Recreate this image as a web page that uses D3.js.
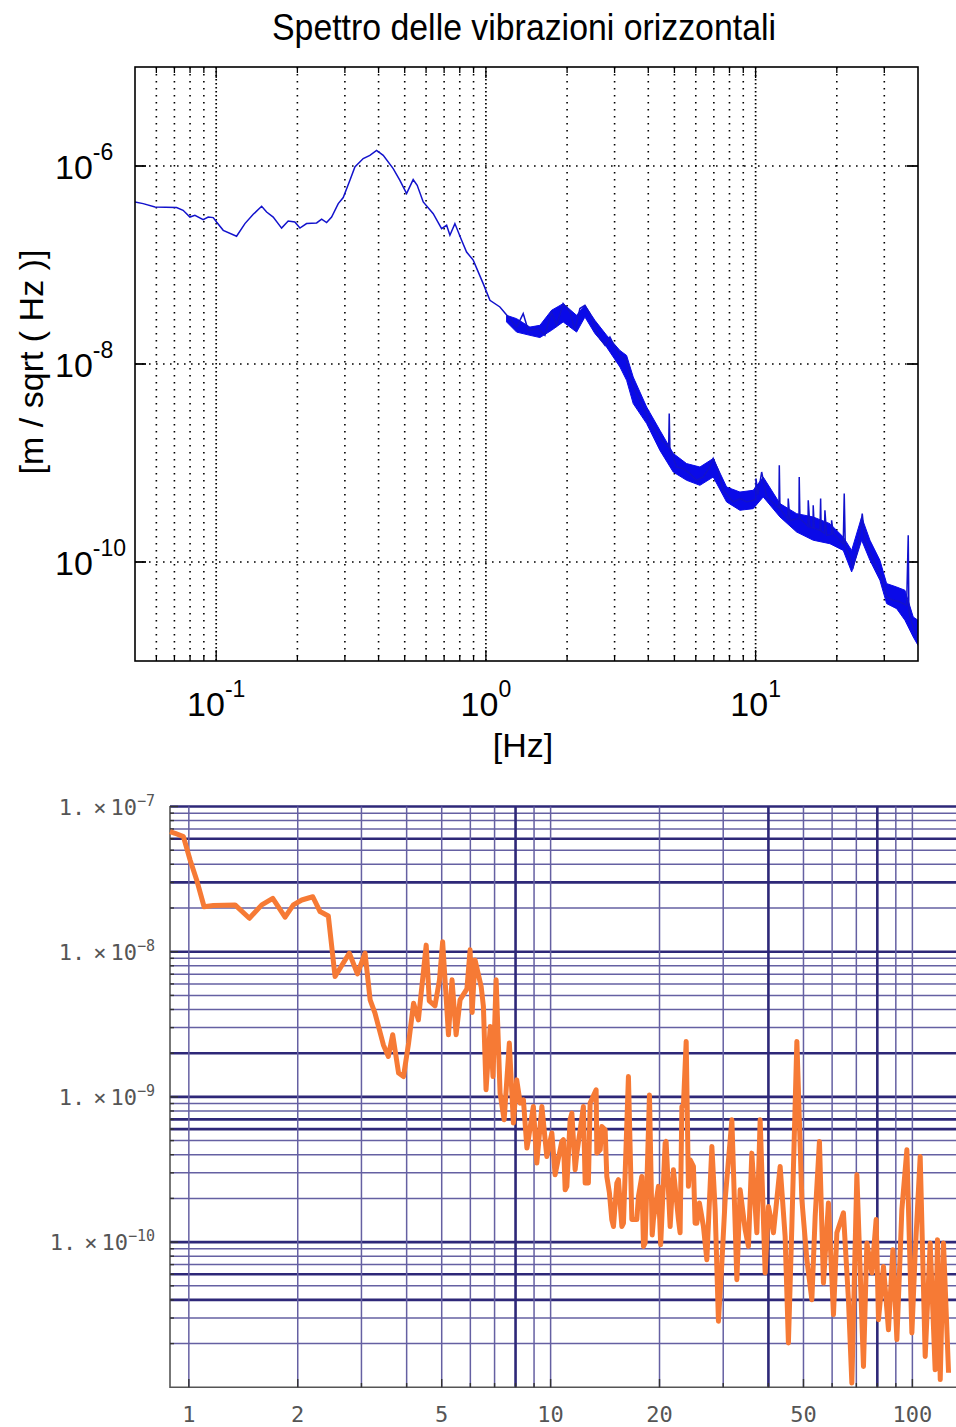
<!DOCTYPE html>
<html>
<head>
<meta charset="utf-8">
<style>
body { margin: 0; background: #fff; }
svg { display: block; }
.mat text { font-family: "Liberation Sans", Arial, Helvetica, sans-serif; fill: #000; }
.mma text { font-family: "DejaVu Sans Mono", monospace; fill: #555; }
</style>
<title>spettro</title>
<script src="https://cdn.jsdelivr.net/npm/d3@7/dist/d3.min.js"></script>
</head>
<body>
<script type="text/javascript">

/* ------- TOP PLOT DATA (matlab style) ------- */
var topFreq = [0.050, 0.0536, 0.0593, 0.0713, 0.0754, 0.0799, 0.0834, 0.0895, 0.0934, 0.0975,
	0.1003, 0.1062, 0.119, 0.1278, 0.1372, 0.1474, 0.1538, 0.1627, 0.1748, 0.1849,
	0.1957, 0.2044, 0.2163, 0.2357, 0.246, 0.2567, 0.2679, 0.2835, 0.2958, 0.3132,
	0.3268, 0.3508, 0.3714, 0.3933, 0.4162, 0.4532, 0.4799, 0.5081, 0.5374, 0.5562,
	0.5856, 0.6378, 0.685, 0.7151, 0.7355, 0.7674, 0.8126, 0.8479, 0.8974, 0.9772,
	1.035, 1.127, 1.227, 1.30, 1.375, 1.435, 1.563, 1.655, 1.752, 1.829,
	1.934, 2.049, 2.138, 2.231, 2.329, 2.43, 2.536, 2.647, 2.762, 2.883,
	3.008, 3.14, 3.324, 3.42, 3.568, 3.724, 3.886, 4.057, 4.295, 4.482,
	4.76, 4.783, 4.81, 4.881, 5.095, 5.389, 5.706, 6.043, 6.393, 6.77,
	6.963, 7.265, 7.584, 8.26, 8.746, 9.262, 9.797, 10.01, 10.03, 10.2,
	10.53, 10.98, 12.2, 12.24, 12.31, 13.18, 13.21, 13.41, 14.48, 14.51,
	14.6, 15.64, 15.67, 15.9, 16.33, 16.35, 16.5, 17.32, 17.42, 17.5,
	18.0, 18.07, 18.34, 19.1, 19.13, 19.4, 21.13, 21.31, 21.5, 22.37,
	23.0, 24.01, 24.85, 25.43, 27.3, 29.33, 30.6, 32.37, 34.28, 36.3,
	36.8, 37.0, 37.34, 39.54, 40];
var topAmp = [4.33e-7, 4.17e-7, 3.85e-7, 3.80e-7, 3.57e-7, 3.05e-7, 3.18e-7, 2.87e-7, 3.05e-7, 3.01e-7,
	2.72e-7, 2.24e-7, 1.95e-7, 2.62e-7, 3.25e-7, 3.92e-7, 3.43e-7, 3.05e-7, 2.36e-7, 2.78e-7,
	2.72e-7, 2.36e-7, 2.62e-7, 2.66e-7, 2.91e-7, 2.68e-7, 3.05e-7, 4.17e-7, 4.80e-7, 7.17e-7,
	9.77e-7, 1.19e-6, 1.28e-6, 1.44e-6, 1.28e-6, 9.41e-7, 7.17e-7, 5.26e-7, 7.29e-7, 6.38e-7,
	4.33e-7, 3.30e-7, 2.33e-7, 2.52e-7, 2.00e-7, 2.62e-7, 1.78e-7, 1.35e-7, 1.12e-7, 6.49e-8,
	4.40e-8, 3.77e-8, 2.87e-8, 2.36e-8, 3.23e-8, 2.19e-8, 2.28e-8, 1.95e-8, 3.35e-8, 2.46e-8,
	4.07e-8, 3.35e-8, 2.19e-8, 3.63e-8, 3.92e-8, 3.23e-8, 2.36e-8, 1.80e-8, 1.55e-8, 1.87e-8,
	1.48e-8, 1.22e-8, 1.09e-8, 7.39e-9, 5.43e-9, 4.30e-9, 3.41e-9, 2.50e-9, 2.06e-9, 1.70e-9,
	1.45e-9, 3.16e-9, 1.40e-9, 1.25e-9, 9.11e-10, 8.78e-10, 7.81e-10, 6.69e-10, 7.22e-10, 9.11e-10,
	1.11e-9, 8.44e-10, 5.30e-10, 4.04e-10, 4.37e-10, 4.04e-10, 4.20e-10, 4.3e-10, 6.96e-10, 4.8e-10,
	8.11e-10, 4.54e-10, 3.5e-10, 9.48e-10, 3.46e-10, 2.7e-10, 4.37e-10, 2.64e-10, 2.75e-10, 7.22e-10,
	2.74e-10, 2.3e-10, 4.20e-10, 2.26e-10, 2.2e-10, 3.74e-10, 2.2e-10, 2.09e-10, 4.37e-10, 2.05e-10,
	1.95e-10, 3.33e-10, 1.86e-10, 1.9e-10, 2.64e-10, 1.94e-10, 1.53e-10, 4.91e-10, 1.45e-10, 1.12e-10,
	8.9e-11, 1.42e-10, 3.08e-10, 1.66e-10, 1.04e-10, 7.06e-11, 4.43e-11, 4.10e-11, 3.94e-11, 3.66e-11,
	1.86e-10, 3.3e-11, 2.78e-11, 1.75e-11, 1.56e-11];

// noisy band (upper / lower envelope) above 1 Hz
var bandFreq = [1.193, 1.30, 1.456, 1.586, 1.752, 1.934, 2.169, 2.329, 2.536, 2.803,
	3.14, 3.324, 3.517, 3.944, 4.418, 4.949, 5.548, 6.216, 6.963, 7.806,
	8.746, 9.797, 10.67, 12.31, 14.19, 16.35, 18.86, 21.13, 22.70, 24.72,
	26.54, 28.90, 30.60, 33.33, 35.78, 38.41, 40];
var bandHi = [3.10e-8, 2.87e-8, 2.36e-8, 2.46e-8, 3.49e-8, 4.07e-8, 3.10e-8, 3.92e-8, 2.76e-8, 1.95e-8,
	1.37e-8, 1.22e-8, 7.39e-9, 3.68e-9, 2.14e-9, 1.25e-9, 9.86e-10, 9.11e-10, 1.11e-9, 5.72e-10,
	5.09e-10, 5.30e-10, 7.22e-10, 3.89e-10, 3.08e-10, 2.85e-10, 2.44e-10, 1.79e-10, 1.31e-10, 2.85e-10,
	1.66e-10, 1.04e-10, 6.05e-11, 5.59e-11, 5.18e-11, 2.78e-11, 2.58e-11];
var bandLo = [2.66e-8, 2.10e-8, 1.95e-8, 1.85e-8, 2.19e-8, 2.66e-8, 2.10e-8, 2.98e-8, 2.03e-8, 1.48e-8,
	9.33e-9, 6.84e-9, 3.98e-9, 2.50e-9, 1.34e-9, 8.11e-10, 6.69e-10, 5.95e-10, 7.22e-10, 4.04e-10,
	3.33e-10, 3.46e-10, 4.54e-10, 2.85e-10, 2.01e-10, 1.66e-10, 1.53e-10, 1.31e-10, 7.93e-11, 1.66e-10,
	1.04e-10, 6.53e-11, 3.80e-11, 3.38e-11, 2.58e-11, 1.75e-11, 1.44e-11];

var topXMinor = [0.06, 0.07, 0.08, 0.09, 0.2, 0.3, 0.4, 0.5, 0.6, 0.7, 0.8, 0.9,
	2, 3, 4, 5, 6, 7, 8, 9, 20, 30];
var topXMajor = [0.1, 1, 10];
var topXExp = ["-1", "0", "1"];
var topYMajor = [1e-10, 1e-8, 1e-6];
var topYExp = ["-10", "-8", "-6"];

/* ------- BOTTOM PLOT DATA (mathematica style) ------- */
var botFreq = [0.887, 0.916, 0.966, 1.008, 1.051, 1.102, 1.169, 1.342, 1.47, 1.591,
	1.706, 1.845, 1.945, 2.052, 2.201, 2.305, 2.43, 2.536, 2.618, 2.778,
	2.924, 3.07, 3.17, 3.27, 3.45, 3.56, 3.66, 3.80, 3.92, 4.05,
	4.18, 4.31, 4.53, 4.62, 4.79, 4.93, 5.03, 5.22, 5.34, 5.48,
	5.62, 5.87, 5.99, 6.07, 6.18, 6.43, 6.52, 6.63, 6.81, 6.93,
	7.07, 7.25, 7.44, 7.69, 7.89, 8.06, 8.24, 8.41, 8.60, 8.68,
	8.87, 8.96, 9.16, 9.46, 9.76, 10.08, 10.29, 10.74, 10.85, 10.97,
	11.09, 11.32, 11.45, 11.69, 11.82, 12.07, 12.32, 12.46, 12.72, 12.86,
	13.36, 13.42, 13.71, 13.85, 14.15, 14.30, 14.54, 14.76, 14.92, 15.24,
	15.40, 15.74, 15.90, 16.41, 16.77, 17.31, 17.49, 17.87, 18.06, 18.25,
	18.76, 19.09, 19.24, 19.86, 20.15, 20.73, 20.86, 21.40, 21.85, 22.56,
	22.80, 23.06, 23.28, 23.70, 24.04, 24.31, 24.82, 25.08, 25.36, 25.78,
	26.45, 27.03, 27.91, 28.50, 29.10, 29.74,
	30.37, 31.70, 32.72, 33.41, 34.49, 35.23, 35.99, 37.16, 37.95, 39.18,
	40.01, 41.30, 43.10, 44.49, 45.43, 46.43, 47.94, 49.49, 51.09, 52.74,
	53.86, 55.35, 56.78, 58.61, 60.52, 61.84, 64.48, 66.57, 68.03, 70.23,
	73.25, 74.85, 77.27, 79.41, 80.59, 83.19, 85.88, 88.33, 90.60, 93.52,
	96.56, 99.68, 101.8, 105.1, 108.5, 112.0, 115.6, 117.3, 119.4, 121.9,
	125.9];
var botAmp = [6.71e-8, 6.54e-8, 6.20e-8, 4.28e-8, 3.12e-8, 2.04e-8, 2.08e-8, 2.10e-8, 1.70e-8, 2.10e-8,
	2.33e-8, 1.73e-8, 2.10e-8, 2.27e-8, 2.39e-8, 1.89e-8, 1.76e-8, 6.74e-9, 7.70e-9, 9.77e-9,
	7.03e-9, 9.77e-9, 4.66e-9, 3.77e-9, 2.28e-9, 1.90e-9, 2.68e-9, 1.46e-9, 1.38e-9, 2.35e-9,
	4.42e-9, 3.39e-9, 1.11e-8, 4.59e-9, 4.24e-9, 6.40e-9, 1.17e-8, 2.68e-9, 6.40e-9, 2.68e-9,
	4.66e-9, 5.55e-9, 1.03e-8, 3.82e-9, 8.78e-9, 5.72e-9, 4.19e-9, 1.12e-9, 3.05e-9, 1.38e-9,
	6.40e-9, 1.06e-9, 6.96e-10, 2.35e-9, 6.60e-10, 1.31e-9, 9.06e-10, 9.55e-10, 4.44e-10, 5.07e-10,
	7.33e-10, 8.59e-10, 3.50e-10, 8.59e-10, 3.89e-10, 5.64e-10, 2.91e-10, 4.93e-10, 5.07e-10, 2.29e-10,
	2.42e-10, 6.96e-10, 7.74e-10, 3.15e-10, 4.10e-10, 5.94e-10, 8.59e-10, 2.55e-10, 2.55e-10, 9.06e-10,
	1.12e-9, 4.10e-10, 4.32e-10, 6.26e-10, 5.94e-10, 2.83e-10, 2.18e-10, 1.43e-10, 1.28e-10, 2.55e-10,
	2.69e-10, 1.28e-10, 1.35e-10, 1.38e-9, 1.43e-10, 1.43e-10, 2.06e-10, 2.83e-10, 9.34e-11, 9.86e-11,
	1.03e-9, 1.12e-10, 1.43e-10, 2.42e-10, 9.60e-11, 4.81e-10, 4.93e-10, 1.28e-10, 3.15e-10, 1.43e-10,
	1.16e-10, 8.59e-10, 8.59e-10, 2.41e-9, 2.42e-10, 3.69e-10, 3.32e-10, 1.35e-10, 1.35e-10, 1.86e-10,
	1.28e-10, 7.57e-11, 4.56e-10, 1.67e-10, 2.85e-11, 7.18e-11,
	1.96e-10, 6.96e-10, 5.51e-11, 2.29e-10, 1.22e-10, 9.34e-11, 4.10e-10, 1.16e-10, 6.96e-10, 6.13e-11,
	1.76e-10, 1.16e-10, 3.32e-10, 1.09e-10, 2.02e-11, 1.28e-10, 2.41e-9, 1.96e-10, 7.57e-11, 4.01e-11,
	1.50e-10, 4.93e-10, 5.23e-11, 1.86e-10, 3.16e-11, 1.16e-10, 1.59e-10, 4.01e-11, 1.07e-11, 2.91e-10,
	1.39e-11, 9.86e-11, 6.13e-11, 1.43e-10, 2.92e-11, 6.80e-11, 2.49e-11, 8.86e-11, 2.13e-11, 1.67e-10,
	4.32e-10, 2.37e-11, 8.41e-11, 3.89e-10, 1.63e-11, 9.86e-11, 1.32e-11, 1.04e-10, 1.13e-11, 9.86e-11,
	1.26e-11];

var botXGrid = [1, 2, 3, 4, 5, 6, 7, 8, 9, 10, 20, 30, 40, 50, 60, 70, 80, 90, 100];
var botXHeavy = [8, 40, 80];
var botYGrid = [2e-11, 3e-11, 4e-11, 5e-11, 6e-11, 7e-11, 8e-11, 9e-11,
	1e-10, 2e-10, 3e-10, 4e-10, 5e-10, 6e-10, 7e-10, 8e-10, 9e-10,
	1e-9, 2e-9, 3e-9, 4e-9, 5e-9, 6e-9, 7e-9, 8e-9, 9e-9,
	1e-8, 2e-8, 3e-8, 4e-8, 5e-8, 6e-8, 7e-8, 8e-8, 9e-8, 1e-7];
var botYHeavy = [4e-11, 6e-11, 1e-10, 6e-10, 7e-10, 1e-9, 2e-9, 1e-8, 3e-8, 6e-8, 1e-7];
var botXLabels = [1, 2, 5, 10, 20, 50, 100];
var botYLabels = [1e-7, 1e-8, 1e-9, 1e-10];
var botYExp = ["\u22127", "\u22128", "\u22129", "\u221210"];


var svg = d3.select("body")
	.append("svg")
	.attr("width", 956)
	.attr("height", 1427);

/* ------- TOP PLOT ------- */
var gTop = svg.append("g").attr("class", "mat");

var tx = d3.scaleLog().domain([0.05, 40]).range([135, 918]);
var ty = d3.scaleLog().domain([1e-11, 1e-5]).range([661, 67]);

gTop.append("defs").append("clipPath").attr("id", "clipTop")
	.append("rect").attr("x", 135).attr("y", 67).attr("width", 783).attr("height", 594);

// dotted grid
gTop.selectAll("line.vminor").data(topXMinor).enter().append("line")
	.attr("x1", function(d) { return tx(d); }).attr("x2", function(d) { return tx(d); })
	.attr("y1", 67).attr("y2", 661)
	.style("stroke", "#000").style("stroke-width", 1.6)
	.style("stroke-dasharray", "1.6 5.4");
gTop.selectAll("line.vmajor").data(topXMajor).enter().append("line")
	.attr("x1", function(d) { return tx(d); }).attr("x2", function(d) { return tx(d); })
	.attr("y1", 67).attr("y2", 661)
	.style("stroke", "#000").style("stroke-width", 1.7)
	.style("stroke-dasharray", "1.6 2.4");
gTop.selectAll("line.hgrid").data(topYMajor).enter().append("line")
	.attr("x1", 135).attr("x2", 918)
	.attr("y1", function(d) { return ty(d); }).attr("y2", function(d) { return ty(d); })
	.style("stroke", "#000").style("stroke-width", 1.6)
	.style("stroke-dasharray", "1.6 5.4");

// ticks
function tickV(data, len, y0, dir) {
	gTop.selectAll(null).data(data).enter().append("line")
		.attr("x1", function(d) { return tx(d); }).attr("x2", function(d) { return tx(d); })
		.attr("y1", y0).attr("y2", y0 + dir * len)
		.style("stroke", "#000").style("stroke-width", 1.3);
}
tickV(topXMinor, 6, 661, -1);
tickV(topXMinor, 6, 67, 1);
tickV(topXMajor, 11, 661, -1);
tickV(topXMajor, 11, 67, 1);
gTop.selectAll(null).data(topYMajor).enter().append("line")
	.attr("x1", 135).attr("x2", 146)
	.attr("y1", function(d) { return ty(d); }).attr("y2", function(d) { return ty(d); })
	.style("stroke", "#000").style("stroke-width", 1.8);
gTop.selectAll(null).data(topYMajor).enter().append("line")
	.attr("x1", 918).attr("x2", 907)
	.attr("y1", function(d) { return ty(d); }).attr("y2", function(d) { return ty(d); })
	.style("stroke", "#000").style("stroke-width", 1.8);

// trace
var plotTop = gTop.append("g").attr("clip-path", "url(#clipTop)");
var band = d3.area()
	.x(function(d, i) { return tx(bandFreq[i]); })
	.y0(function(d, i) { return ty(bandLo[i]); })
	.y1(function(d, i) { return ty(bandHi[i]); });
plotTop.append("path")
	.attr("d", band(bandFreq))
	.style("fill", "#0a0ae8").style("stroke", "#0a0ae8").style("stroke-width", 1);
var topLine = d3.line()
	.x(function(d, i) { return tx(topFreq[i]); })
	.y(function(d, i) { return ty(topAmp[i]); });
plotTop.append("path")
	.attr("d", topLine(topFreq))
	.style("fill", "none").style("stroke", "#1212cc").style("stroke-width", 1.5);

// frame
gTop.append("rect").attr("x", 135).attr("y", 67).attr("width", 783).attr("height", 594)
	.style("fill", "none").style("stroke", "#000").style("stroke-width", 1.6);

// labels
var xl = gTop.selectAll("text.xl").data(topXMajor).enter().append("text")
	.attr("x", function(d) { return tx(d); }).attr("y", 716)
	.attr("text-anchor", "middle").style("font-size", "34px");
xl.append("tspan").text("10");
xl.append("tspan").attr("dy", -19).style("font-size", "23px")
	.text(function(d, i) { return topXExp[i]; });

var yl = gTop.selectAll("text.yl").data(topYMajor).enter().append("text")
	.attr("x", 55).attr("y", function(d) { return ty(d) + 13; })
	.attr("text-anchor", "start").style("font-size", "34px");
yl.append("tspan").text("10");
yl.append("tspan").attr("dy", -19).style("font-size", "23px")
	.text(function(d, i) { return topYExp[i]; });

gTop.append("text").attr("x", 524).attr("y", 40).attr("text-anchor", "middle")
	.attr("textLength", 504).attr("lengthAdjust", "spacingAndGlyphs")
	.style("font-size", "37px").text("Spettro delle vibrazioni orizzontali");
gTop.append("text").attr("x", 523).attr("y", 757).attr("text-anchor", "middle")
	.style("font-size", "34px").text("[Hz]");
gTop.append("text").attr("transform", "translate(43,362) rotate(-90)")
	.attr("text-anchor", "middle").style("font-size", "34px")
	.text("[m / sqrt ( Hz )]");

/* ------- BOTTOM PLOT ------- */
var gBot = svg.append("g").attr("class", "mma");

var bx = d3.scaleLog().domain([0.887, 132]).range([170, 956]);
var by = d3.scaleLog().domain([1e-11, 1e-7]).range([1387.3, 806.5]);

var isIn = function(list, d) {
	return list.some(function(v) { return Math.abs(v - d) / d < 1e-6; });
};

gBot.selectAll("line.hg").data(botYGrid).enter().append("line")
	.attr("x1", 170).attr("x2", 956)
	.attr("y1", function(d) { return by(d); }).attr("y2", function(d) { return by(d); })
	.style("stroke", function(d) { return isIn(botYHeavy, d) ? "#2e2878" : "#6560a2"; })
	.style("stroke-width", function(d) { return isIn(botYHeavy, d) ? 2.6 : 1.5; });
gBot.selectAll("line.vg").data(botXGrid).enter().append("line")
	.attr("x1", function(d) { return bx(d); }).attr("x2", function(d) { return bx(d); })
	.attr("y1", 806.5).attr("y2", 1387.3)
	.style("stroke", function(d) { return isIn(botXHeavy, d) ? "#2e2878" : "#6560a2"; })
	.style("stroke-width", function(d) { return isIn(botXHeavy, d) ? 2.6 : 1.5; });

// axes
gBot.append("line").attr("x1", 170).attr("x2", 170).attr("y1", 806).attr("y2", 1388)
	.style("stroke", "#555").style("stroke-width", 1.6);
gBot.append("line").attr("x1", 170).attr("x2", 956).attr("y1", 1387.3).attr("y2", 1387.3)
	.style("stroke", "#555").style("stroke-width", 1.6);
gBot.selectAll(null).data(botYGrid).enter().append("line")
	.attr("x1", 170).attr("x2", function(d) { return isIn(botYLabels, d) ? 178 : 174; })
	.attr("y1", function(d) { return by(d); }).attr("y2", function(d) { return by(d); })
	.style("stroke", "#333").style("stroke-width", 1.4);
gBot.selectAll(null).data(botXGrid).enter().append("line")
	.attr("x1", function(d) { return bx(d); }).attr("x2", function(d) { return bx(d); })
	.attr("y1", 1387.3).attr("y2", function(d) { return isIn(botXLabels, d) ? 1379 : 1383; })
	.style("stroke", "#333").style("stroke-width", 1.4);

// data line
var botLine = d3.line()
	.x(function(d, i) { return bx(botFreq[i]); })
	.y(function(d, i) { return by(botAmp[i]); });
gBot.append("path")
	.attr("d", botLine(botFreq))
	.style("fill", "none").style("stroke", "#f67a35")
	.style("stroke-width", 5).style("stroke-linejoin", "round");

// labels
gBot.selectAll("text.bx").data(botXLabels).enter().append("text")
	.attr("x", function(d) { return bx(d); }).attr("y", 1422)
	.attr("text-anchor", "middle").style("font-size", "22px")
	.text(function(d) { return d; });
var byl = gBot.selectAll("text.by").data(botYLabels).enter().append("text")
	.attr("x", 155).attr("y", function(d) { return by(d) + 8; })
	.attr("text-anchor", "end").style("font-size", "22px");
byl.append("tspan").text("1.");
byl.append("tspan").attr("dx", 8).text("\u00d7");
byl.append("tspan").attr("dx", 4).text("10");
byl.append("tspan").attr("dy", -9).style("font-size", "15px")
	.text(function(d, i) { return botYExp[i]; });

</script>
</body>
</html>
